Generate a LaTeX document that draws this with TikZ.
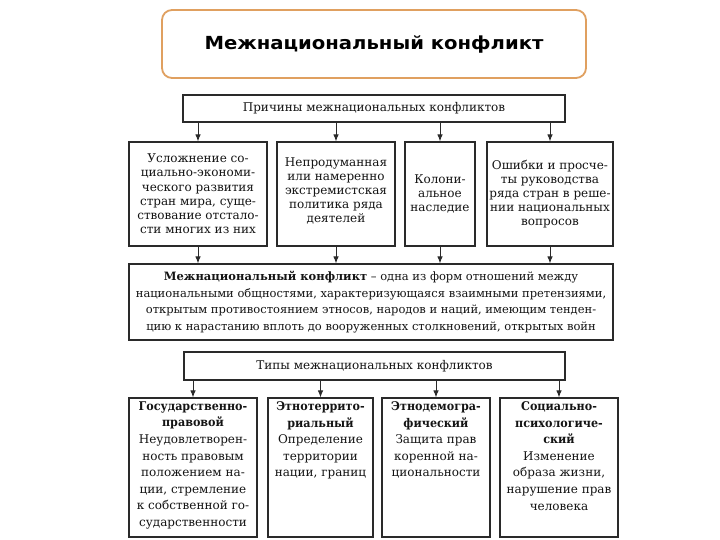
\documentclass[tikz,border=0pt]{standalone}
\usepackage{fontspec}
\setmainfont{DejaVu Serif}
\newfontfamily\titlefont{DejaVu Sans}
\usetikzlibrary{arrows.meta}
\definecolor{linec}{HTML}{2A2A2A}
\definecolor{textc}{HTML}{141414}
\definecolor{titleb}{HTML}{E0A060}
\newcommand\bxt[4]{\parbox[c][#2][#3]{#1}{\centering #4}}
\newcommand\bt[1]{\mbox{\bfseries\scalebox{0.93}[1]{#1}}}
\begin{document}
\begin{tikzpicture}[x=1pt,y=-1pt,
  frame/.style={draw=linec,line width=1.1pt,inner sep=0pt,fill=white,text=textc},
  arr/.style={draw=linec,line width=1pt,-{Latex[length=7pt,width=5.5pt]}},
  fsmall/.style={font=\fontsize{12}{14.2}\selectfont},
  fbot/.style={font=\fontsize{12}{16.6}\selectfont},
  fdef/.style={font=\fontsize{11.5}{16.5}\selectfont},
  fhead/.style={font=\fontsize{12}{14}\selectfont}]
\useasboundingbox (0,0) rectangle (720,540);
% title
\node[draw=titleb,line width=1.8pt,rounded corners=10pt,minimum width=424pt,minimum height=68pt,inner sep=0pt,fill=white] (title) at (374,44)
  {\titlefont\bfseries\fontsize{18}{20}\selectfont\scalebox{1.09}[1]{Межнациональный конфликт}};
% causes header
\node[frame,fhead,minimum width=382pt,minimum height=27pt] (h1) at (374,108.5) {Причины межнациональных конфликтов};
% top boxes
\node[frame,fsmall] (t1) at (198,194) {\bxt{138pt}{104pt}{c}{Усложнение со-\\циально-экономи-\\ческого развития\\стран мира, суще-\\ствование отстало-\\сти многих из них}};
\node[frame,fsmall] (t2) at (336,194) {\bxt{118pt}{104pt}{c}{Непродуманная\\или намеренно\\экстремистская\\политика ряда\\деятелей\\[6pt]}};
\node[frame,fsmall] (t3) at (440,194) {\bxt{70pt}{104pt}{c}{Колони-\\альное\\наследие}};
\node[frame,fsmall] (t4) at (550,194) {\bxt{126pt}{104pt}{c}{Ошибки и просче-\\ты руководства\\ряда стран в реше-\\нии национальных\\вопросов}};
% definition
\node[frame,fdef] (def) at (371,302) {\bxt{484pt}{76pt}{c}{\mbox{\textbf{Межнациональный конфликт} – одна из форм отношений между}\\\mbox{национальными общностями, характеризующаяся взаимными претензиями,}\\\mbox{открытым противостоянием этносов, народов и наций, имеющим тенден-}\\\mbox{цию к нарастанию вплоть до вооруженных столкновений, открытых войн}}};
% types header
\node[frame,fhead,minimum width=381pt,minimum height=28pt] (h2) at (374.5,366) {Типы межнациональных конфликтов};
% bottom boxes
\node[frame,fbot] (b1) at (193,467.5) {\bxt{128pt}{139pt}{t}{\vspace*{3.5pt}\bt{Государственно-}\\\bt{правовой}\\Неудовлетворен-\\ность правовым\\положением на-\\ции, стремление\\к собственной го-\\сударственности}};
\node[frame,fbot] (b2) at (320.5,467.5) {\bxt{105pt}{139pt}{t}{\vspace*{3.5pt}\bt{Этнотеррито-}\\\bt{риальный}\\Определение\\территории\\нации, границ}};
\node[frame,fbot] (b3) at (436,467.5) {\bxt{108pt}{139pt}{t}{\vspace*{3.5pt}\bt{Этнодемогра-}\\\bt{фический}\\Защита прав\\коренной на-\\циональности}};
\node[frame,fbot] (b4) at (559,467.5) {\bxt{118pt}{139pt}{t}{\vspace*{3.5pt}\bt{Социально-}\\\bt{психологиче-}\\\bt{ский}\\Изменение\\образа жизни,\\нарушение прав\\человека}};
% arrows
\foreach \n in {t1,t2,t3,t4} {
  \draw[arr] (h1.south -| \n.north) -- (\n.north);
  \draw[arr] (\n.south) -- (\n.south |- def.north);
}
\foreach \n in {b1,b2,b3,b4} {
  \draw[arr] (h2.south -| \n.north) -- (\n.north);
}
\end{tikzpicture}
\end{document}
